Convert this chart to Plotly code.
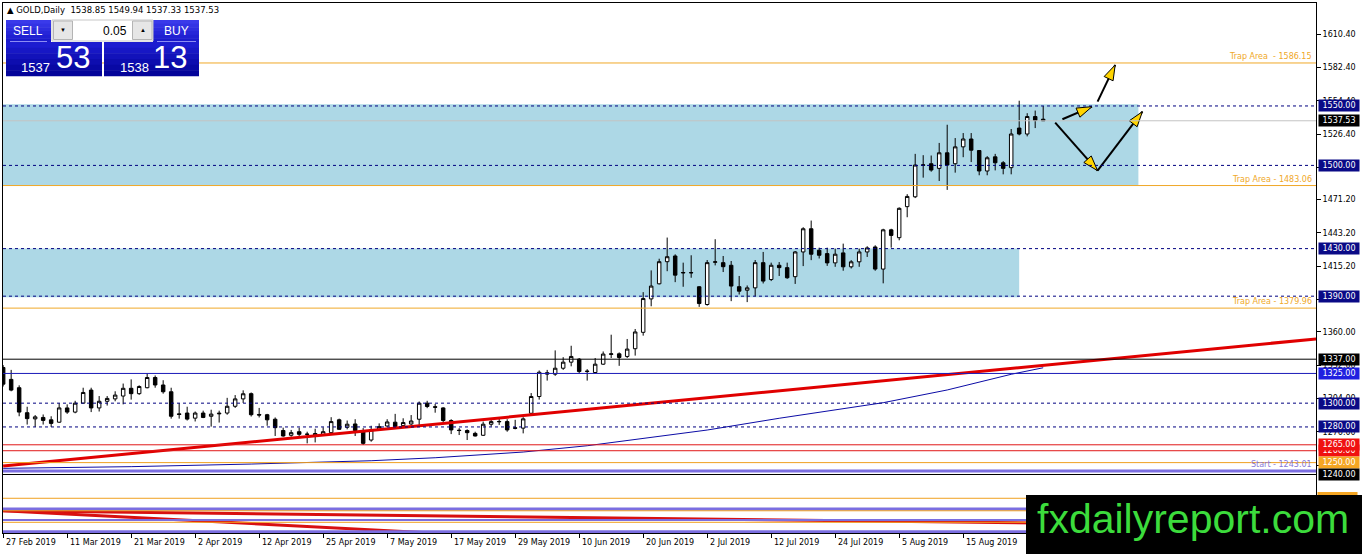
import math
import plotly.graph_objects as go

# GOLD daily bars, bar 0 = 27 Feb 2019, one bar per trading day
opens = [1330, 1320, 1313, 1292, 1286.8, 1288, 1286, 1284, 1296, 1292.5,
         1300, 1311, 1296, 1301.6, 1303.6, 1306, 1312.5, 1308, 1313, 1321.6,
         1315.3, 1309.6, 1291, 1291.7, 1287.4, 1291.7, 1289, 1291, 1291.7, 1297.4,
         1303.6, 1308, 1290.5, 1290.3, 1286.5, 1277, 1273, 1276, 1274, 1273,
         1273.2, 1275.2, 1286, 1279.7, 1282.5, 1276, 1269, 1278, 1280.8, 1284,
         1281.1, 1282.5, 1286.5, 1300, 1297, 1296, 1285.4, 1277.3, 1277, 1274.6,
         1273, 1282.3, 1284.3, 1284.5, 1279.3, 1279, 1291.5, 1305.6, 1325.6, 1324.4,
         1329.4, 1334.5, 1337, 1326.6, 1325.8, 1332.8, 1341, 1341.5, 1339.3, 1345.8,
         1359.6, 1387.7, 1400.4, 1419, 1423.8, 1409.5, 1409.6, 1397.9, 1383, 1418.5,
         1418.2, 1416, 1398, 1395, 1397, 1418.2, 1404, 1416, 1414, 1406.4,
         1427.2, 1446.7, 1428.6, 1425.8, 1418, 1426.4, 1414.7, 1418.9, 1427.2, 1431.4,
         1412.8, 1445.8, 1439.2, 1465.3, 1473.6, 1500.1, 1501.4, 1497.5, 1510.6, 1501.4,
         1515.6, 1522.2, 1512.5, 1495.3, 1507.2, 1502.2, 1498.1, 1531.4, 1526.4, 1541.1,
         1538.85]
highs = [1332, 1328, 1315, 1297, 1290, 1290.5, 1289, 1300, 1299, 1302,
         1313, 1313, 1306, 1306, 1310, 1316.5, 1320, 1315, 1325, 1323.3,
         1319.3, 1313, 1300, 1297, 1293, 1293.7, 1294.5, 1293.7, 1304.5, 1306.8,
         1310.8, 1309, 1296, 1291, 1288, 1279.4, 1277.5, 1279.4, 1276, 1278.5,
         1279.7, 1288.2, 1287, 1285.4, 1286.5, 1279, 1281, 1283, 1286.5, 1291,
         1287.3, 1290, 1301.4, 1302, 1299.4, 1296.6, 1286.5, 1279, 1278, 1276,
         1284.5, 1286.5, 1287.3, 1286.5, 1286, 1288.2, 1308.5, 1327.5, 1328, 1344.4,
         1338.7, 1348.3, 1338, 1328.6, 1338, 1343.5, 1357.6, 1342.7, 1354, 1362.4,
         1393.4, 1411.7, 1421.5, 1439.3, 1425.2, 1418.2, 1424.4, 1398.5, 1420.4, 1437.9,
         1423.8, 1419.6, 1407, 1399, 1420.4, 1427.2, 1418.2, 1418.7, 1418.2, 1428,
         1448, 1453.6, 1430.8, 1430.8, 1430, 1434.2, 1420.3, 1430, 1432, 1432.8,
         1446.7, 1446.7, 1464.7, 1475.8, 1509.7, 1508.6, 1508.3, 1518.9, 1534.2, 1523,
         1527.2, 1527.2, 1512.8, 1507.8, 1509.7, 1503.6, 1530.6, 1554.4, 1543.9, 1546.1,
         1549.94]
lows = [1314, 1310, 1289, 1282, 1280, 1282, 1280, 1283.5, 1291, 1291.5,
        1300, 1292.5, 1293, 1298, 1301.6, 1299, 1303, 1307, 1312.5, 1313,
        1308, 1287, 1287, 1285.4, 1284.6, 1287.4, 1280.3, 1283.7, 1290.3, 1296,
        1300.2, 1288.8, 1288, 1281, 1272.4, 1271.8, 1271.8, 1271.8, 1266.2, 1267,
        1272.4, 1274.6, 1277.5, 1278, 1272.4, 1264.8, 1267.6, 1277.5, 1280.3, 1279.4,
        1280.3, 1281.7, 1281.7, 1295.8, 1292, 1283.7, 1274, 1273.2, 1269, 1272,
        1272.4, 1280.3, 1281.7, 1276, 1278, 1274.6, 1290, 1303, 1319, 1323,
        1328, 1331, 1325.2, 1319, 1325.2, 1332.2, 1338, 1331.4, 1338, 1340,
        1356.8, 1381.5, 1399.9, 1411, 1401.8, 1397.9, 1405.5, 1381, 1382, 1415.9,
        1410.3, 1385.8, 1391.4, 1385, 1390, 1400.7, 1402.7, 1407, 1404.6, 1400.3,
        1415.3, 1420.3, 1421.7, 1415.5, 1414.7, 1411.4, 1413.3, 1414.7, 1423, 1411.4,
        1400.8, 1430.8, 1437, 1456.4, 1472.5, 1489.7, 1494.7, 1486.9, 1479.4, 1493.9,
        1506.9, 1502.8, 1491.7, 1491.7, 1495.8, 1492.5, 1492.5, 1525.3, 1524.4, 1531.4,
        1537.33]
closes = [1316, 1311, 1292.5, 1287, 1288.5, 1285.5, 1283, 1296, 1292.5, 1300,
          1309, 1296, 1301.6, 1304, 1306.8, 1312.5, 1308, 1314, 1321.6, 1315.3,
          1309.6, 1289, 1290.5, 1286.6, 1291.7, 1288, 1290.8, 1291.5, 1297.4, 1303.6,
          1307.9, 1290.3, 1290, 1286, 1279.4, 1272.4, 1275.2, 1273.8, 1273.8, 1274.5,
          1276, 1284.5, 1278, 1282.3, 1277, 1266.2, 1277.5, 1280.3, 1284.2, 1280.3,
          1283.7, 1285, 1300, 1297.2, 1296.6, 1285.4, 1277.5, 1277, 1275.2, 1272.4,
          1282.3, 1284.5, 1284.6, 1277.5, 1278.9, 1286.8, 1305.6, 1326, 1324.5, 1329.4,
          1334.5, 1339.3, 1326.6, 1326.9, 1332.8, 1341.3, 1341.5, 1338.4, 1345.5, 1359.9,
          1388, 1398.5, 1419, 1423.2, 1407.7, 1409.9, 1409.8, 1383.8, 1418.2, 1418.9,
          1414.8, 1398.5, 1394.2, 1397, 1418.2, 1402.7, 1416, 1414, 1405.5, 1427.2,
          1446.7, 1425.3, 1424.4, 1418, 1425.3, 1414.7, 1418.9, 1427.2, 1430.6, 1412.8,
          1445.8, 1441.1, 1463.9, 1473.9, 1500.3, 1500.4, 1496.1, 1510.6, 1500.3, 1515.6,
          1522.2, 1512.8, 1495.3, 1506.4, 1502.2, 1497.5, 1526.4, 1526.4, 1541.1, 1537.8,
          1537.53]
bars = list(range(len(opens)))

date_ticks = [0, 8, 16, 24, 32, 40, 48, 56, 64, 72, 80, 88, 96, 104, 112, 120]
date_labels = ["27 Feb 2019", "11 Mar 2019", "21 Mar 2019", "2 Apr 2019",
               "12 Apr 2019", "25 Apr 2019", "7 May 2019", "17 May 2019",
               "29 May 2019", "10 Jun 2019", "20 Jun 2019", "2 Jul 2019",
               "12 Jul 2019", "24 Jul 2019", "5 Aug 2019", "15 Aug 2019"]

price_ticks = [1610.40, 1582.40, 1554.40, 1526.40, 1498.40, 1471.20, 1443.20,
               1415.20, 1387.20, 1360.00, 1332.00, 1304.00, 1276.00, 1248.00, 1220.00]

# moving average (blue) and rising trend line (red)
ma_bar = [0, 16, 31, 38, 46, 54, 65, 73, 88, 97, 110, 118, 126, 130]
ma_val = [1245.2, 1246.6, 1248.8, 1249.9, 1251.6, 1254.1, 1258.9, 1264.2,
          1277.4, 1287.3, 1300.4, 1311.1, 1324.3, 1329.8]
trend_bar = [0, 164.5]
trend_val = [1247.2, 1354.3]

# falling red lines at the bottom
low_a_bar = [0, 135]
low_a_val = [1209.5, 1198.8]
low_b_bar = [0, 56]
low_b_val = [1209.5, 1190.0]

# zones
zone_top = [1551.5, 1430.0]
zone_bottom = [1483.06, 1389.0]
zone_end = [141.9, 127.0]

dashed_levels = [1550, 1500, 1430, 1390, 1300, 1280]
trap_levels = [1586.15, 1483.06, 1379.96]
trap_texts = ["Trap Area  - 1586.15", "Trap Area - 1483.06", "Trap Area - 1379.96"]
start_level = 1243.01
bid_level = 1537.53
solid_levels = [1337, 1325, 1265, 1260, 1250, 1240]
solid_colors = ["black", "#1a1ab8", "#e01818", "#e01818", "#f0a020", "black"]
lower_levels = [1220.0, 1211.0, 1209.5, 1201.7, 1199.8, 1191.9]
lower_colors = ["#f0a020", "#7b6ee0", "#f0a020", "#7b6ee0", "#f0a020", "#7b6ee0"]
lower_widths = [1, 3, 1, 2, 1, 3]

# price boxes on the right scale
box_prices = [1550, 1537.53, 1500, 1430, 1390, 1337, 1325, 1300, 1280, 1260, 1265, 1250, 1240]
box_colors = ["#0a0a86", "black", "#0a0a86", "#0a0a86", "#0a0a86", "black", "#2020e0",
              "#0a0a86", "#0a0a86", "#f01010", "#f01010", "#f5a623", "black"]

# hand-drawn arrows (bar, price) start -> tip
arrow_x0 = [132.4, 136.8, 131.5, 136.8]
arrow_y0 = [1538.8, 1553.6, 1536.0, 1495.6]
arrow_x1 = [136.1, 139.0, 136.8, 142.4]
arrow_y1 = [1549.4, 1584.5, 1495.6, 1545.2]

W, H = 1362, 554
ML, MR, MT, MB = 3, 46, 3, 21
XR = [-0.02, 164.1]
YR = [1190.8, 1636.6]
PW, PH = W - ML - MR, H - MT - MB


def px(x):
    return (x - ML) / PW


def py(y):
    return (H - MB - y) / PH


fig = go.Figure()

fig.add_trace(go.Candlestick(
    x=bars, open=opens, high=highs, low=lows, close=closes,
    increasing=dict(fillcolor="white", line=dict(color="black", width=1)),
    decreasing=dict(fillcolor="black", line=dict(color="black", width=1)),
    hoverinfo="skip"
))

fig.add_trace(go.Scatter(x=ma_bar, y=ma_val, mode="lines",
                         line=dict(color="#0c0ca6", width=1), hoverinfo="skip"))
fig.add_trace(go.Scatter(x=trend_bar, y=trend_val, mode="lines",
                         line=dict(color="#e00000", width=3), hoverinfo="skip"))
fig.add_trace(go.Scatter(x=low_a_bar, y=low_a_val, mode="lines",
                         line=dict(color="#d81010", width=3), hoverinfo="skip"))
fig.add_trace(go.Scatter(x=low_b_bar, y=low_b_val, mode="lines",
                         line=dict(color="#d81010", width=3), hoverinfo="skip"))

# zones behind the candles
for top, bot, end in zip(zone_top, zone_bottom, zone_end):
    fig.add_shape(type="rect", x0=-5, x1=end, y0=bot, y1=top,
                  fillcolor="#add8e6", line_width=0, layer="below")

# horizontal levels
for lv, c, w in zip(lower_levels, lower_colors, lower_widths):
    fig.add_hline(y=lv, line=dict(color=c, width=w), layer="above")
for lv, c in zip(solid_levels, solid_colors):
    fig.add_hline(y=lv, line=dict(color=c, width=1), layer="above")
fig.add_hline(y=start_level, line=dict(color="#7b6ee0", width=3), layer="above")
fig.add_hline(y=bid_level, line=dict(color="#c4c4c4", width=1), layer="above")
for lv in dashed_levels:
    fig.add_hline(y=lv, line=dict(color="#000080", width=1, dash="3px,3px"), layer="above")
for lv in trap_levels:
    fig.add_hline(y=lv, line=dict(color="#f0a828", width=1), layer="above")

# arrows: black shafts, yellow heads
sx = PW / (XR[1] - XR[0])
sy = PH / (YR[1] - YR[0])
for x0, y0, x1, y1 in zip(arrow_x0, arrow_y0, arrow_x1, arrow_y1):
    fig.add_trace(go.Scatter(x=[x0, x1], y=[y0, y1], mode="lines",
                             line=dict(color="black", width=2), hoverinfo="skip"))
    ang = math.degrees(math.atan2((x1 - x0) * sx, (y1 - y0) * sy))
    fig.add_trace(go.Scatter(x=[x1], y=[y1], mode="markers", hoverinfo="skip",
                             marker=dict(symbol="arrow", size=16, angle=ang, color="#ffd400",
                                         line=dict(color="black", width=1))))

ann = []
for lv, t in zip(trap_levels, trap_texts):
    ann.append(dict(x=1, xref="paper", xanchor="right", xshift=-2, y=lv, yref="y",
                    yanchor="bottom", text=t, showarrow=False,
                    font=dict(family="DejaVu Sans", size=8, color="#f0a828")))
ann.append(dict(x=1, xref="paper", xanchor="right", xshift=-2, y=start_level, yref="y",
                yanchor="bottom", text="Start - 1243.01", showarrow=False,
                font=dict(family="DejaVu Sans", size=8, color="#8878d8")))

for p, c in zip(box_prices, box_colors):
    ann.append(dict(x=px(1317.5), xref="paper", xanchor="left", y=p, yref="y",
                    yanchor="middle", text=f"{p:.2f}", showarrow=False,
                    width=40, height=11, bgcolor=c, borderpad=0,
                    font=dict(family="DejaVu Sans", size=8, color="white")))

for t, lab in zip(date_ticks, date_labels):
    ann.append(dict(x=t, xref="x", xanchor="left", xshift=1, y=0, yref="paper",
                    yanchor="top", yshift=-3, text=lab, showarrow=False,
                    font=dict(family="DejaVu Sans", size=8, color="black")))

ann.append(dict(x=px(5), xref="paper", xanchor="left", y=py(10), yref="paper",
                yanchor="middle", showarrow=False,
                text="▲ GOLD,Daily  1538.85 1549.94 1537.33 1537.53",
                font=dict(family="DejaVu Sans", size=8.5, color="black")))


def grad_rect(x0, x1, y0, y1, c_top, c_bot, n=6):
    # fake a vertical gradient with bands
    def hx(c):
        return [int(c[i:i + 2], 16) for i in (1, 3, 5)]
    a, b = hx(c_top), hx(c_bot)
    step = (y1 - y0) / n
    for k in range(n):
        f = k / (n - 1)
        col = "#%02x%02x%02x" % tuple(int(a[j] + (b[j] - a[j]) * f) for j in range(3))
        fig.add_shape(type="rect", xref="paper", yref="paper",
                      x0=px(x0), x1=px(x1), y0=py(y0 + step * (k + 1) + 0.3), y1=py(y0 + step * k),
                      fillcolor=col, line_width=0, layer="above")


# one-click trading panel
grad_rect(6, 51, 20, 42, "#3a3aea", "#1a1acc")
grad_rect(6, 102, 42, 76, "#1c1cd0", "#04049a")
grad_rect(153, 199, 20, 42, "#3a3aea", "#1a1acc")
grad_rect(104, 199, 42, 76, "#1c1cd0", "#04049a")
for xa, xb in [(10, 47), (157, 196)]:
    fig.add_shape(type="line", xref="paper", yref="paper", x0=px(xa), x1=px(xb),
                  y0=py(41.5), y1=py(41.5), line=dict(color="#8c8cf4", width=1), layer="above")
fig.add_shape(type="rect", xref="paper", yref="paper", x0=px(52), x1=px(153),
              y0=py(41), y1=py(20), fillcolor="white", line=dict(color="#c8c8c8", width=1),
              layer="above")
for xa, xb in [(53.5, 72.5), (132.5, 152)]:
    fig.add_shape(type="rect", xref="paper", yref="paper", x0=px(xa), x1=px(xb),
                  y0=py(39.5), y1=py(21), fillcolor="#e6e6e6", line=dict(color="#b4b4b4", width=1),
                  layer="above")

panel_txt = [(28, 31, "SELL", 12, "white", "center"), (176, 31, "BUY", 12, "white", "center"),
             (129, 30.5, "0.05", 12, "black", "right"), (63, 30, "▼", 6, "black", "center"),
             (142.5, 30, "▲", 6, "black", "center"),
             (35.5, 67.5, "1537", 13, "white", "center"), (72.5, 58, "53", 31, "white", "center"),
             (134, 67.5, "1538", 13, "white", "center"), (170, 58, "13", 31, "white", "center")]
for x, y, t, s, c, xa in panel_txt:
    ann.append(dict(x=px(x), xref="paper", xanchor=xa, y=py(y), yref="paper", yanchor="middle",
                    text=t, showarrow=False, font=dict(family="Liberation Sans", size=s, color=c)))

# orange price box mostly hidden by the watermark, then the watermark
fig.add_shape(type="rect", xref="paper", yref="paper", x0=px(1317.5), x1=px(1357.5),
              y0=py(503), y1=py(492), fillcolor="#f5a623", line_width=0, layer="above")
fig.add_shape(type="rect", xref="paper", yref="paper", x0=px(1026), x1=px(1372),
              y0=py(560), y1=py(495), fillcolor="black", line_width=0, layer="above")
ann.append(dict(x=px(1193), xref="paper", xanchor="center", y=py(519), yref="paper",
                yanchor="middle", text="fxdailyreport.com", showarrow=False,
                font=dict(family="Liberation Sans", size=41, color="#3cdc3c")))

fig.update_layout(
    width=W, height=H,
    margin=dict(l=ML, r=MR, t=MT, b=MB),
    paper_bgcolor="white", plot_bgcolor="white",
    showlegend=False, boxgap=0.38,
    annotations=ann,
    xaxis=dict(range=XR, showgrid=False, zeroline=False, showline=True, mirror=True,
               linecolor="black", linewidth=1, tickvals=date_ticks, ticks="outside",
               ticklen=4, tickcolor="black", showticklabels=False,
               rangeslider=dict(visible=False), fixedrange=True),
    yaxis=dict(range=YR, side="right", showgrid=False, zeroline=False, showline=True,
               mirror=True, linecolor="black", linewidth=1, tickvals=price_ticks,
               ticktext=[f"{v:.2f}" for v in price_ticks], ticks="outside", ticklen=4,
               tickcolor="black", tickfont=dict(family="DejaVu Sans", size=8, color="black"),
               fixedrange=True),
)

fig.write_html("out.html", config={"displayModeBar": False},
               post_script="document.body.style.margin='0';")
